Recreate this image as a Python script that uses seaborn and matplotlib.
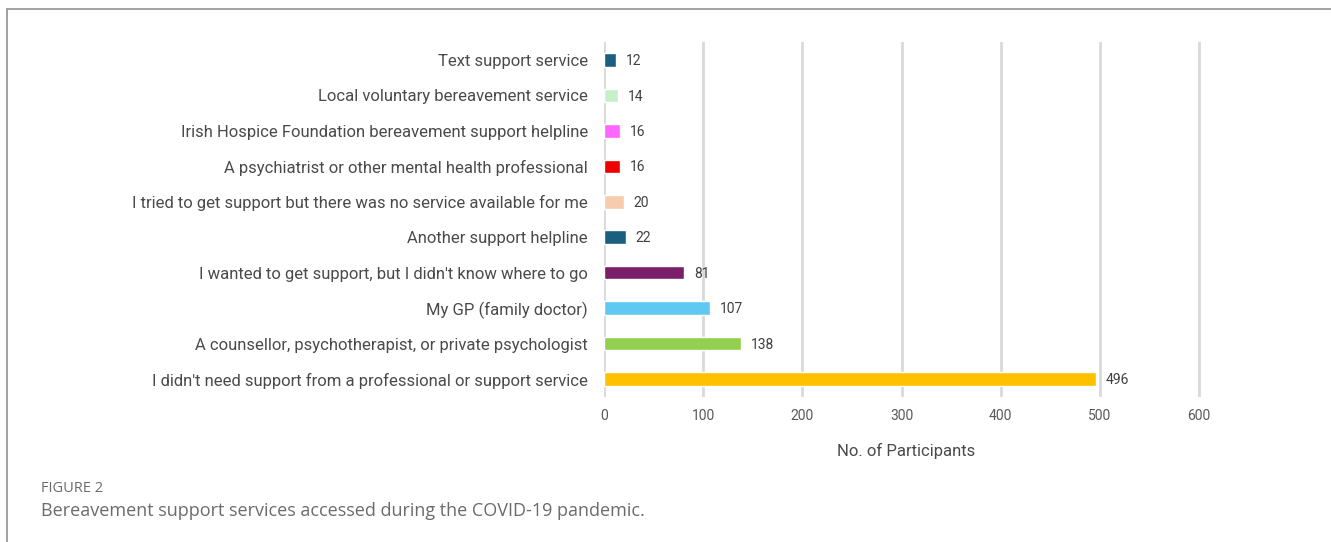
import pandas as pd
import matplotlib.pyplot as plt
import seaborn as sns
from matplotlib.lines import Line2D

services = ["Text support service",
            "Local voluntary bereavement service",
            "Irish Hospice Foundation bereavement support helpline",
            "A psychiatrist or other mental health professional",
            "I tried to get support but there was no service available for me",
            "Another support helpline",
            "I wanted to get support, but I didn't know where to go",
            "My GP (family doctor)",
            "A counsellor, psychotherapist, or private psychologist",
            "I didn't need support from a professional or support service"]
participants = [12, 14, 16, 16, 20, 22, 81, 107, 138, 496]
bar_colors = ["#1b5e80", "#c6efce", "#ff66ff", "#ee0000", "#f8cbad",
              "#1b5e80", "#7b1f6a", "#5ecaf2", "#92d050", "#ffc000"]

df = pd.DataFrame({"service": services, "n": participants})

sns.set_style("white")
plt.rcParams["font.family"] = ["Roboto", "DejaVu Sans"]

fig = plt.figure(figsize=(13.31, 5.42), dpi=100)
# axis runs a little past 600 so the last gridline isn't clipped
ax = fig.add_axes([0.4538, 0.268, 0.4545, 0.654])

sns.barplot(data=df, x="n", y="service", hue="service", palette=bar_colors,
            order=services, legend=False, width=0.38, saturation=1, ax=ax)

for i, v in enumerate(participants):
    ax.text(v + 10, i + 0.03, str(v), va="center", ha="left", fontsize=10, color="#404040")

ax.set_xlim(0, 610)
ax.set_xticks(range(0, 601, 100))
ax.grid(axis="x", color="#d9d9d9", linewidth=2)
ax.set_axisbelow(True)
for s in ax.spines.values():
    s.set_visible(False)
ax.tick_params(axis="x", length=0, pad=9, labelsize=10, labelcolor="#595959")
ax.tick_params(axis="y", length=0, pad=11.5, labelsize=12, labelcolor="#4a4a4a")
ax.set_ylabel("")
ax.set_xlabel("No. of Participants", fontsize=12, color="#4a4a4a", labelpad=14)

# frame lines around the figure panel
fig.add_artist(Line2D([7 / 1331, 1], [1 - 9 / 542, 1 - 9 / 542], color="#9a9a9a", lw=1.3))
fig.add_artist(Line2D([7 / 1331, 7 / 1331], [0, 1 - 9 / 542], color="#9a9a9a", lw=1.3))

fig.text(41 / 1331, 1 - 488 / 542, "FIGURE 2", fontsize=10.5, color="#6b6b6b",
         family="Open Sans", va="center")
fig.text(41 / 1331, 1 - 511 / 542,
         "Bereavement support services accessed during the COVID-19 pandemic.",
         fontsize=13, color="#6b6b6b", family="Open Sans", va="center")

plt.savefig("out.png", dpi=100)
